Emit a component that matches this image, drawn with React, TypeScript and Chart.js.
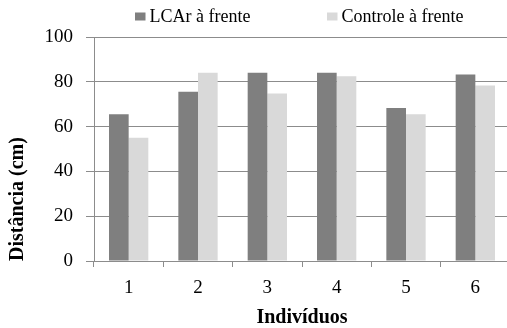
import React, { useEffect, useRef } from "react";
import { Chart, registerables } from "chart.js";

Chart.register(...registerables);

const categories = ["1", "2", "3", "4", "5", "6"];
const lcarValues = [65.5, 75.6, 84, 84, 68.3, 83.3];
const controleValues = [55, 84, 74.8, 82.5, 65.5, 78.3];
const seriesNames = ["LCAr à frente", "Controle à frente"];
const yTicks = [0, 20, 40, 60, 80, 100];

const DARK = "#7f7f7f";
const LIGHT = "#d9d9d9";
const GRID = "#8c8c8c";
const FONT = "'Liberation Serif', 'Times New Roman', serif";

const legendPlugin = {
  id: "customLegend",
  afterDraw(chart: any) {
    const ctx = chart.ctx;
    const items = [
      { x: 135, text: chart.data.datasets[0].label, color: chart.data.datasets[0].backgroundColor },
      { x: 327, text: chart.data.datasets[1].label, color: chart.data.datasets[1].backgroundColor },
    ];
    ctx.save();
    ctx.font = `18px ${FONT}`;
    ctx.textBaseline = "middle";
    ctx.textAlign = "left";
    items.forEach((it) => {
      ctx.fillStyle = it.color;
      ctx.fillRect(it.x, 12.5, 10.5, 8);
      ctx.fillStyle = "#000";
      ctx.fillText(it.text, it.x + 14.5, 17.5);
    });
    ctx.restore();
  },
};

export default function App() {
  const ref = useRef<HTMLCanvasElement | null>(null);
  useEffect(() => {
    document.body.style.margin = "0";
    document.body.style.overflow = "hidden";
    const canvas = ref.current!;
    const chart = new Chart(canvas, {
      type: "bar",
      data: {
        labels: categories,
        datasets: [
          {
            label: seriesNames[0],
            data: lcarValues,
            backgroundColor: DARK,
            borderWidth: 0,
            categoryPercentage: 0.567,
            barPercentage: 1.0,
          },
          {
            label: seriesNames[1],
            data: controleValues,
            backgroundColor: LIGHT,
            borderWidth: 0,
            categoryPercentage: 0.567,
            barPercentage: 1.0,
          },
        ],
      },
      options: {
        responsive: false,
        animation: false,
        devicePixelRatio: 1,
        layout: { padding: { top: 37, right: 2, left: 0, bottom: 0 } },
        plugins: {
          legend: { display: false },
          tooltip: { enabled: false },
        },
        scales: {
          x: {
            afterFit: (s: any) => {
              s.height = 67;
            },
            grid: {
              drawOnChartArea: false,
              drawTicks: true,
              tickLength: 6,
              color: GRID,
              lineWidth: 1,
            },
            border: { color: GRID, width: 1 },
            ticks: {
              color: "#000",
              font: { family: FONT, size: 19 },
              padding: 10,
            },
            title: {
              display: true,
              text: "Indivíduos",
              color: "#000",
              font: { family: FONT, size: 20, weight: "bold" },
              padding: { top: 0, bottom: -2 },
            },
          },
          y: {
            min: 0,
            max: 100,
            afterFit: (s: any) => {
              s.width = 94;
            },
            afterBuildTicks: (s: any) => {
              s.ticks = yTicks.map((v) => ({ value: v }));
            },
            grid: {
              drawTicks: true,
              tickLength: 8,
              color: GRID,
              lineWidth: 1,
            },
            border: { color: GRID, width: 1 },
            ticks: {
              color: "#000",
              font: { family: FONT, size: 19 },
              padding: 13,
            },
            title: {
              display: true,
              text: "Distância (cm)",
              align: "start",
              color: "#000",
              font: { family: FONT, size: 20, weight: "bold" },
              padding: { top: 6, bottom: 0 },
            },
          },
        },
      },
      plugins: [legendPlugin],
    });
    return () => chart.destroy();
  }, []);
  return (
    <div style={{ position: "absolute", left: 0, top: 0, width: 512, height: 328, background: "#fff" }}>
      <canvas ref={ref} width={512} height={328} style={{ display: "block" }} />
    </div>
  );
}
